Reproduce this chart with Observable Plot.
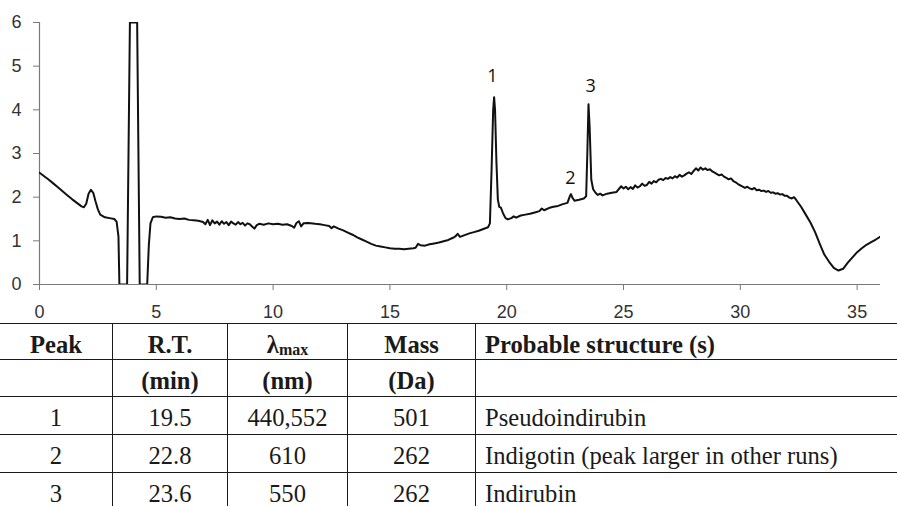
<!DOCTYPE html>
<html>
<head>
<meta charset="utf-8">
<script src="https://cdn.jsdelivr.net/npm/d3@7"></script>
<script src="https://cdn.jsdelivr.net/npm/@observablehq/plot@0.6"></script>
<style>
  html, body { margin: 0; padding: 0; background: #fff; }
  #chart svg { display: block; }
  .tbl { display: grid; grid-template-columns: 112px 115px 120px 128px 422px;
         grid-template-rows: 36px 37px 38px 38px 38px; width: 897px; color: #1a1a1a; }
  .tbl div { box-sizing: border-box; border-top: 1px solid #1a1a1a; line-height: 24px;
             font-family: "Liberation Serif", "Times New Roman", serif; font-size: 24.6px;
             padding-top: 9px; text-align: center; white-space: nowrap; }
  .tbl div.c1, .tbl div.c2, .tbl div.c3, .tbl div.c4 { border-left: 1px solid #1a1a1a; }
  .tbl div.c4 { text-align: left; padding-left: 9px; }
  .tbl div.h { font-weight: bold; }
  .tbl sub { font-size: 16px; vertical-align: -2px; line-height: 0; }
</style>
</head>
<body>
<div id="chart"></div>
<div id="table"></div>
<script>
// Chromatogram trace (time in min, absorbance)
const timeMin = [
  0.0,0.2,0.4,0.6,0.8,1.0,1.2,1.4,1.6,1.8,1.9,2.0,2.1,2.2,2.3,2.4,2.5,2.6,2.8,3.0,3.2,3.3,3.38,3.42,
  3.75,3.87,4.18,4.29,4.61,4.68,4.75,4.85,5.0,5.2,5.4,5.6,5.8,6.0,6.2,6.4,6.6,6.8,
  7.0,7.1,7.2,7.3,7.4,7.5,7.6,7.7,7.8,7.9,8.0,8.1,8.2,8.3,8.4,8.5,8.6,8.7,8.8,8.9,9.0,9.1,9.2,9.3,9.4,9.6,9.8,
  10.0,10.2,10.4,10.6,10.8,10.9,11.0,11.1,11.2,11.3,11.5,11.8,12.0,12.2,12.4,12.5,12.6,12.8,
  13.0,13.2,13.4,13.6,13.8,14.0,14.2,14.4,14.6,14.8,15.0,15.2,15.4,15.6,15.8,16.0,16.1,16.2,16.3,16.5,16.7,16.9,
  17.1,17.3,17.5,17.7,17.8,17.9,18.0,18.2,18.4,18.6,18.8,19.0,19.2,19.28,19.35,19.42,19.46,19.50,19.56,19.62,19.68,19.75,19.85,19.95,
  20.05,20.2,20.3,20.4,20.6,20.8,21.0,21.2,21.4,21.5,21.6,21.8,22.0,22.2,22.4,22.6,22.7,22.75,22.82,22.9,
  23.1,23.3,23.4,23.45,23.5,23.55,23.62,23.7,23.8,23.9,24.0,24.1,24.3,24.5,24.7,24.9,25.0,25.1,25.2,25.3,25.4,25.5,25.6,25.7,25.8,25.9,
  26.0,26.1,26.2,26.3,26.4,26.5,26.6,26.7,26.8,26.9,27.0,27.1,27.2,27.3,27.4,27.5,27.6,27.7,27.8,27.9,28.0,28.1,28.2,28.3,28.4,28.5,28.6,28.7,28.8,28.9,
  29.0,29.1,29.2,29.3,29.4,29.5,29.6,29.7,29.8,29.9,
  30.0,30.1,30.2,30.3,30.4,30.5,30.6,30.7,30.8,30.9,31.0,31.1,31.2,31.3,31.4,31.5,31.6,31.7,31.8,31.9,32.0,32.1,32.2,32.3,32.4,32.6,32.8,33.0,33.2,33.4,33.6,33.8,
  34.0,34.2,34.4,34.6,34.8,35.0,35.2,35.4,35.6,35.8,36.0
];
const absorbance = [
  2.56,2.48,2.40,2.31,2.22,2.13,2.04,1.95,1.87,1.79,1.77,1.85,2.08,2.17,2.10,1.90,1.72,1.60,1.54,1.52,1.50,1.44,1.10,0.00,
  0.00,6.00,6.00,0.00,0.00,0.90,1.40,1.54,1.56,1.55,1.53,1.54,1.51,1.50,1.51,1.48,1.47,1.46,
  1.43,1.38,1.48,1.36,1.47,1.40,1.44,1.37,1.45,1.39,1.43,1.36,1.44,1.40,1.37,1.43,1.38,1.41,1.35,1.40,1.38,1.33,1.28,1.36,1.39,1.37,1.40,
  1.38,1.39,1.37,1.38,1.34,1.30,1.41,1.45,1.33,1.40,1.41,1.39,1.38,1.36,1.34,1.29,1.33,1.28,
  1.24,1.19,1.14,1.08,1.03,0.98,0.93,0.89,0.87,0.85,0.83,0.82,0.82,0.81,0.82,0.83,0.84,0.93,0.90,0.89,0.92,0.94,
  0.96,0.99,1.02,1.07,1.10,1.16,1.09,1.13,1.17,1.20,1.23,1.27,1.31,1.40,2.60,4.00,4.29,4.00,2.80,1.95,1.78,1.76,1.62,1.52,
  1.49,1.52,1.56,1.53,1.58,1.60,1.62,1.65,1.68,1.74,1.70,1.75,1.78,1.80,1.84,1.87,2.02,2.07,1.98,1.92,
  1.94,1.97,2.02,3.00,4.13,3.60,2.40,2.18,2.10,2.05,2.08,2.04,2.08,2.10,2.12,2.25,2.20,2.24,2.18,2.23,2.19,2.27,2.22,2.25,2.31,2.26,
  2.28,2.35,2.31,2.37,2.34,2.40,2.42,2.39,2.44,2.42,2.46,2.43,2.48,2.45,2.51,2.47,2.50,2.54,2.57,2.53,2.60,2.66,2.61,2.68,2.63,2.66,2.62,2.64,2.59,2.56,
  2.53,2.50,2.52,2.47,2.44,2.41,2.43,2.37,2.34,2.30,
  2.27,2.24,2.21,2.24,2.20,2.18,2.21,2.16,2.17,2.14,2.15,2.12,2.14,2.10,2.11,2.08,2.09,2.06,2.07,2.03,2.03,1.99,1.97,2.00,1.93,1.78,1.60,1.42,1.20,0.93,0.68,0.52,
  0.38,0.32,0.36,0.50,0.62,0.74,0.83,0.91,0.97,1.03,1.10
];
const xTicks = [0, 5, 10, 15, 20, 25, 30, 35];
const yTicks = [0, 1, 2, 3, 4, 5, 6];

// Peak annotations
const peakLabel = ["1", "2", "3"];
const peakLabelX = [19.39, 22.73, 23.59];
const peakLabelY = [4.78, 2.43, 4.53];

// Table
const tableHead1 = ["Peak", "R.T.", "λ|max", "Mass", "Probable structure (s)"];
const tableHead2 = ["", "(min)", "(nm)", "(Da)", ""];
const peakNo = ["1", "2", "3"];
const retention = ["19.5", "22.8", "23.6"];
const lambdaMax = ["440,552", "610", "550"];
const massDa = ["501", "262", "262"];
const structure = ["Pseudoindirubin", "Indigotin (peak larger in other runs)", "Indirubin"];

const trace = timeMin.map((t, i) => ({t, a: absorbance[i]}));
const labels = peakLabel.map((s, i) => ({s, x: peakLabelX[i], y: peakLabelY[i]}));

const axisGray = "#7a7a7a";
const chart = Plot.plot({
  width: 897, height: 323,
  marginTop: 22, marginBottom: 39, marginLeft: 39, marginRight: 17,
  style: {fontFamily: "'Liberation Sans', Arial, sans-serif", fontSize: "18px", color: "#333", background: "#fff"},
  x: {domain: [0, 36]},
  y: {domain: [0, 6]},
  marks: [
    Plot.axisX({ticks: xTicks, tickSize: 6, tickPadding: 15, label: null, stroke: axisGray, fill: "#333", fontSize: 18, fontFamily: "'Liberation Sans', Arial, sans-serif", tickFormat: d => String(d)}),
    Plot.axisY({ticks: yTicks, tickSize: 6, tickPadding: 12, label: null, stroke: axisGray, fill: "#333", fontSize: 18, fontFamily: "'Liberation Sans', Arial, sans-serif", tickFormat: d => String(d)}),
    Plot.ruleY([0], {stroke: axisGray, strokeWidth: 1.2}),
    Plot.ruleX([0], {y1: 0, y2: 6, stroke: axisGray, strokeWidth: 1.2}),
    Plot.line(trace, {x: "t", y: "a", stroke: "#111", strokeWidth: 2, strokeLinejoin: "round", clip: true}),
    Plot.text(labels, {x: "x", y: "y", text: "s", fontSize: 18, fontFamily: "'Open Sans', sans-serif", fill: "#111"})
  ]
});
document.getElementById("chart").appendChild(chart);

// Build the table
const tbl = document.createElement("div");
tbl.className = "tbl";
function cell(text, col, head) {
  const d = document.createElement("div");
  d.className = "c" + col + (head ? " h" : "");
  if (text.includes("|")) {
    const [a, b] = text.split("|");
    d.innerHTML = a + "<sub>" + b + "</sub>";
  } else d.textContent = text;
  tbl.appendChild(d);
}
tableHead1.forEach((t, i) => cell(t, i, true));
tableHead2.forEach((t, i) => cell(t, i, true));
peakNo.forEach((p, r) => {
  [p, retention[r], lambdaMax[r], massDa[r], structure[r]].forEach((t, i) => cell(t, i, false));
});
document.getElementById("table").appendChild(tbl);
</script>
</body>
</html>
